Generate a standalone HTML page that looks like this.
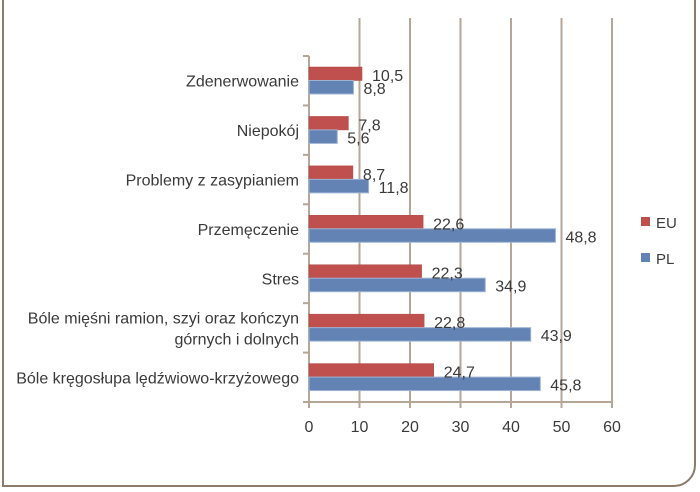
<!DOCTYPE html>
<html><head><meta charset="utf-8"><style>
body{margin:0;background:#fff;}
#frame{position:absolute;left:2px;top:-4px;width:694px;height:491px;box-sizing:border-box;border:2px solid #8c7b6b;border-radius:0 0 22px 0;}
text{font-family:"Liberation Sans",sans-serif;fill:#3a3a3a;}
</style></head><body>
<div id="frame"></div>
<svg id="c" width="700" height="492" style="position:absolute;left:0;top:0"></svg>
<script>
const categories=["Zdenerwowanie","Niepokój","Problemy z zasypianiem","Przemęczenie","Stres","Bóle mięśni ramion, szyi oraz kończyn|górnych i dolnych","Bóle kręgosłupa lędźwiowo-krzyżowego"];
const euValues=[10.5,7.8,8.7,22.6,22.3,22.8,24.7];
const plValues=[8.8,5.6,11.8,48.8,34.9,43.9,45.8];
const ticks=[0,10,20,30,40,50,60];
const NS="http://www.w3.org/2000/svg";
const svg=document.getElementById('c');
const X0=309,X1=612,Y0=56,Y1=402,band=(Y1-Y0)/categories.length;
const x=v=>X0+(X1-X0)*v/60;
function el(t,a,p){const e=document.createElementNS(NS,t);for(const k in a)e.setAttribute(k,a[k]);(p||svg).appendChild(e);return e;}
ticks.forEach(t=>{
 const g=el('line',{x1:x(t),x2:x(t),y1:Y0-38,y2:Y1+6,stroke:'#b5a697','stroke-width':2});
 
 
 if(t===0){g.setAttribute('y1',Y0);}
 const l=el('text',{x:x(t),y:Y1+30,'text-anchor':'middle','font-size':16});
 l.textContent=t;
 
 
});
el('line',{x1:X0,x2:X1,y1:Y1,y2:Y1,stroke:'#b5a697','stroke-width':2});
for(let i=0;i<=categories.length;i++){el('line',{x1:X0-6,x2:X0,y1:Y0+i*band,y2:Y0+i*band,stroke:'#b5a697','stroke-width':2});}
categories.forEach((c,i)=>{
 const top=Y0+i*band;
 const r=el('rect',{x:X0,y:top+11,width:x(euValues[i])-X0,height:13.5,fill:'#c0504d',stroke:'#b04a45','stroke-width':0.5});
 
 
 const b=el('rect',{x:X0,y:top+24.5,width:x(plValues[i])-X0,height:13.5,fill:'#6383b4',stroke:'#9fb4d4','stroke-width':1});
 
 
 const t1=el('text',{x:x(euValues[i])+10,y:top+25,'font-size':16});
 t1.textContent=String(euValues[i]).replace('.',',');
 
 
 const t2=el('text',{x:x(plValues[i])+10,y:top+38,'font-size':16});
 t2.textContent=String(plValues[i]).replace('.',',');
 
 
 const lines=c.split('|');
 lines.forEach((ln,j)=>{
  const tl=el('text',{x:X0-10,y:top+band/2+6+(j-(lines.length-1)/2)*21,'text-anchor':'end','font-size':16});
  tl.textContent=ln;
  
  
 });
});
[['EU','#c0504d',222],['PL','#6383b4',258]].forEach(([n,col,y])=>{
 const s=el('rect',{x:641,y:y-5,width:9,height:9,fill:col});
 
 
 const t=el('text',{x:656,y:y+6,'font-size':15});
 t.textContent=n;
 
 
});
</script>
</body></html>
